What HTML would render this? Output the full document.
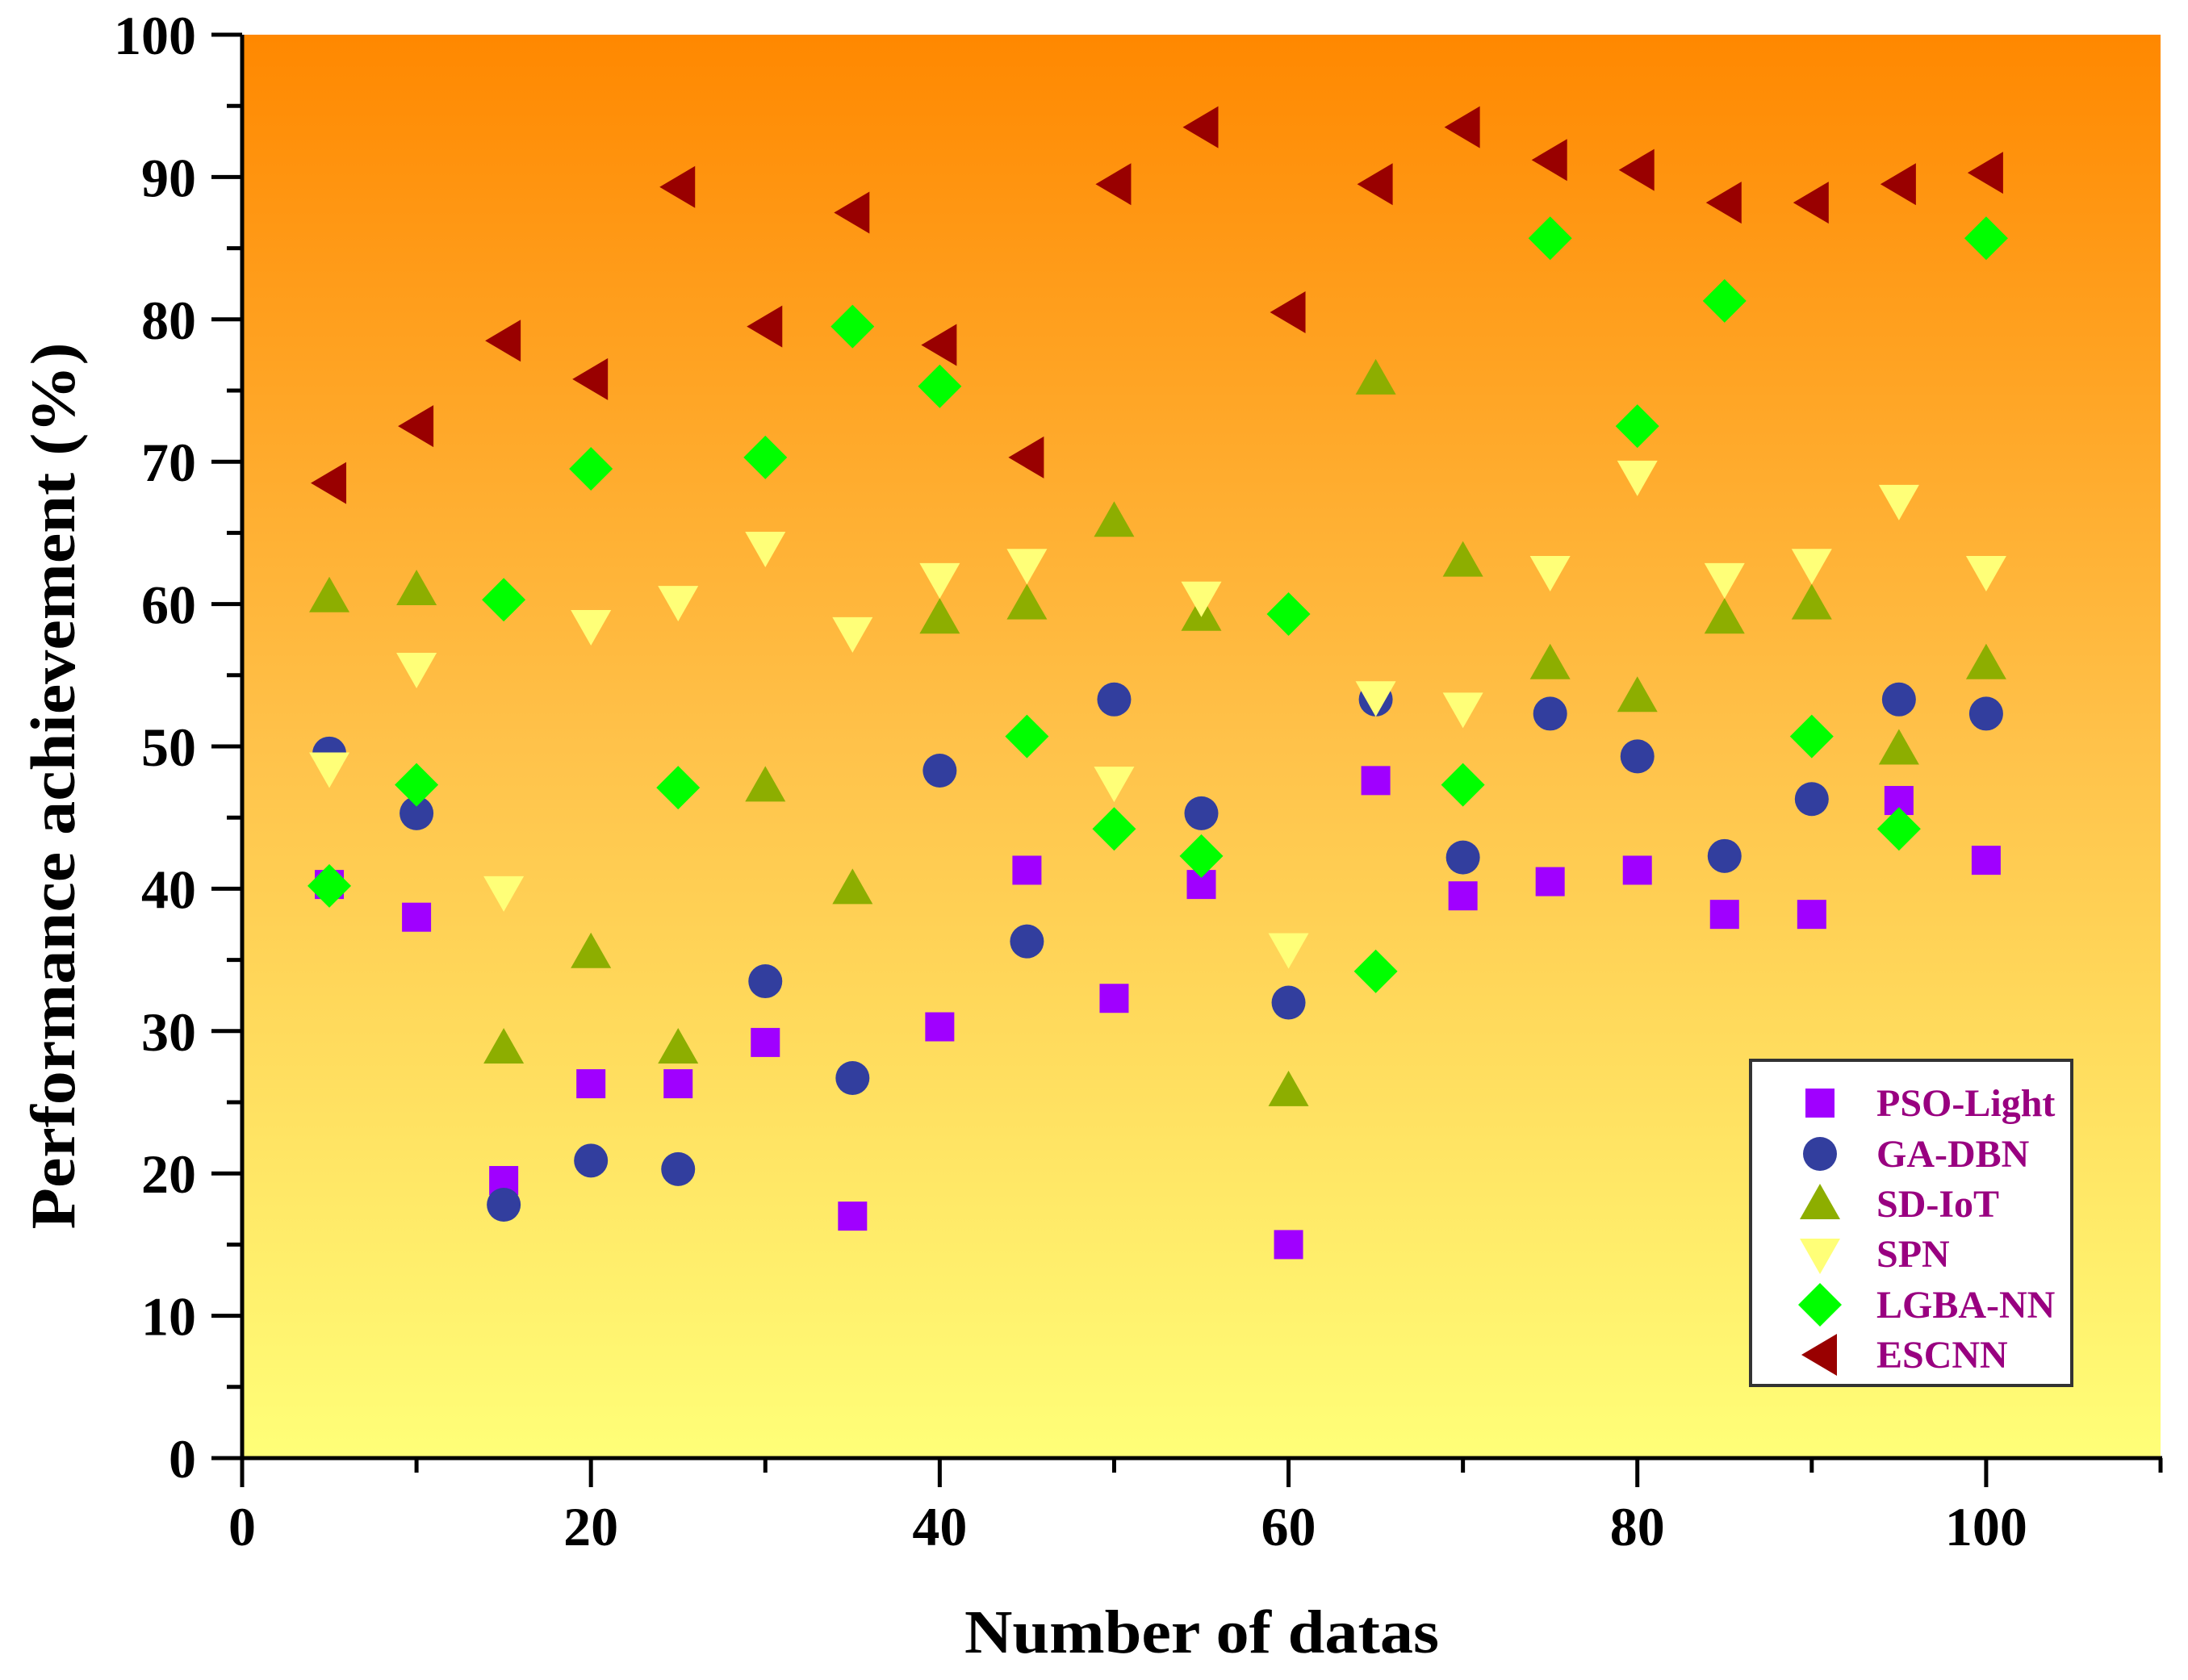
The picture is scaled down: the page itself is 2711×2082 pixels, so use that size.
<!DOCTYPE html>
<html><head><meta charset="utf-8"><style>
html,body{margin:0;padding:0;background:#fff}
svg{display:block}
text{font-family:"Liberation Serif",serif;font-weight:bold}
</style></head><body>
<svg id="chart" width="2711" height="2082" viewBox="0 0 2711 2082" xmlns="http://www.w3.org/2000/svg">
<defs>
<linearGradient id="bg" x1="0" y1="0" x2="0" y2="1">
<stop offset="0" stop-color="#FF8800"/>
<stop offset="0.5" stop-color="#FFC24A"/>
<stop offset="1" stop-color="#FFFF78"/>
</linearGradient>
</defs>
<rect x="300" y="43" width="2377" height="1764" fill="url(#bg)"/>
<g id="marks"></g>
<g id="axes"></g>
<text x="1489" y="2048" font-size="76" text-anchor="middle" textLength="588" lengthAdjust="spacingAndGlyphs">Number of datas</text>
<text x="0" y="0" font-size="78" text-anchor="middle" textLength="1099" lengthAdjust="spacingAndGlyphs" transform="translate(92,974) rotate(-90)">Performance achievement (%)</text>
<g>
<rect x="2169" y="1314" width="398" height="403" fill="#fff" stroke="#333" stroke-width="4"/>
<g id="legend-items"></g>
</g>
</svg>
<script>
const xValues=[5,10,15,20,25,30,35,40,45,50,55,60,65,70,75,80,85,90,95,100];
const psoLight=[40.3,38.0,19.5,26.3,26.3,29.2,17.0,30.3,41.3,32.3,40.3,15.0,47.6,39.5,40.5,41.3,38.2,38.2,46.2,42.0];
const gaDbn=[49.5,45.3,17.8,20.9,20.3,33.5,26.7,48.3,36.3,53.3,45.3,32.0,53.3,42.2,52.3,49.3,42.3,46.3,53.3,52.3];
const sdIot=[60.5,61.0,28.8,35.5,28.8,47.2,40.0,59.0,60.0,65.8,59.2,25.8,75.8,63.0,55.8,53.5,59.0,60.0,49.8,55.8];
const spn=[48.5,55.5,39.8,58.5,60.2,64.0,58.0,61.8,62.8,47.5,60.5,35.8,53.5,52.7,62.3,69.0,61.8,62.8,67.3,62.3];
const lgbaNn=[40.2,47.3,60.3,69.5,47.1,70.3,79.5,75.3,50.7,44.2,42.3,59.3,34.2,47.3,85.7,72.5,81.3,50.7,44.2,85.7];
const escnn=[68.5,72.5,78.5,75.8,89.3,79.5,87.5,78.2,70.3,89.5,93.5,80.5,89.5,93.5,91.2,90.5,88.2,88.2,89.5,90.3];
const yTicks=[0,10,20,30,40,50,60,70,80,90,100];
const xTicks=[0,20,40,60,80,100];
const seriesNames=["PSO-Light","GA-DBN","SD-IoT","SPN","LGBA-NN","ESCNN"];

const NS="http://www.w3.org/2000/svg";
const X0=300,X1=2677,Y0=1807,Y1=43;
function sx(v){return X0+(v/110)*(X1-X0);}
function sy(v){return Y0-(v/100)*(Y0-Y1);}
function mk(tag,attrs,parent){const e=document.createElementNS(NS,tag);for(const k in attrs)e.setAttribute(k,attrs[k]);parent.appendChild(e);return e;}
function shape(kind,cx,cy,parent){
  let e;
  if(kind==="square"){e=mk("rect",{x:cx-18,y:cy-18,width:36,height:36,fill:"#A000FF"},parent);}
  else if(kind==="circle"){e=mk("circle",{cx:cx,cy:cy,r:21,fill:"#323E9E"},parent);}
  else if(kind==="up"){e=mk("polygon",{points:`${cx},${cy-25} ${cx+25},${cy+19} ${cx-25},${cy+19}`,fill:"#8DAE00"},parent);}
  else if(kind==="down"){e=mk("polygon",{points:`${cx},${cy+25} ${cx+25},${cy-19} ${cx-25},${cy-19}`,fill:"#FFFF78"},parent);}
  else if(kind==="diamond"){e=mk("polygon",{points:`${cx},${cy-27} ${cx+27},${cy} ${cx},${cy+27} ${cx-27},${cy}`,fill:"#00FF00"},parent);}
  else {e=mk("polygon",{points:`${cx-23},${cy} ${cx+21},${cy-26} ${cx+21},${cy+26}`,fill:"#990000"},parent);}
  return e;
}
const marks=document.getElementById("marks");
const seriesData=[psoLight,gaDbn,sdIot,spn,lgbaNn,escnn];
const kinds=["square","circle","up","down","diamond","left"];
const keys=["pso-light","ga-dbn","sd-iot","spn","lgba-nn","escnn"];
seriesData.forEach((arr,si)=>{
  const g=mk("g",{},marks);
  
  
  arr.forEach((v,i)=>{
    const e=shape(kinds[si],sx(xValues[i]),sy(v),g);
    
    
  });
});
const axes=document.getElementById("axes");
let a=mk("line",{x1:X0,y1:Y1,x2:X0,y2:Y0+2,stroke:"#000","stroke-width":5},axes);


a=mk("line",{x1:X0-2,y1:Y0,x2:X1+2,y2:Y0,stroke:"#000","stroke-width":5},axes);


for(let v=0;v<=100;v+=5){
  const major=v%10===0;
  const t=mk("line",{x1:X0-(major?38:19),y1:sy(v),x2:X0,y2:sy(v),stroke:"#000","stroke-width":5},axes);
  
  
}
yTicks.forEach(v=>{
  const t=mk("text",{x:243,y:sy(v)+24,"font-size":68,"text-anchor":"end"},axes);
  t.textContent=v;
  
  
});
for(let v=0;v<=110;v+=10){
  const major=v%20===0;
  const t=mk("line",{x1:sx(v),y1:Y0,x2:sx(v),y2:Y0+(major?36:18),stroke:"#000","stroke-width":5},axes);
  
  
}
xTicks.forEach(v=>{
  const t=mk("text",{x:sx(v),y:1915,"font-size":68,"text-anchor":"middle"},axes);
  t.textContent=v;
  
  
});
const leg=document.getElementById("legend-items");
const rowY=[1367,1430,1492,1554,1617,1679];
seriesNames.forEach((n,i)=>{
  const g=mk("g",{},leg);
  
  
  shape(kinds[i],2255,rowY[i],g);
  const t=mk("text",{x:2325,y:rowY[i]+16,"font-size":48,fill:"#990080"},g);
  t.textContent=n;
});
</script>
</body></html>
